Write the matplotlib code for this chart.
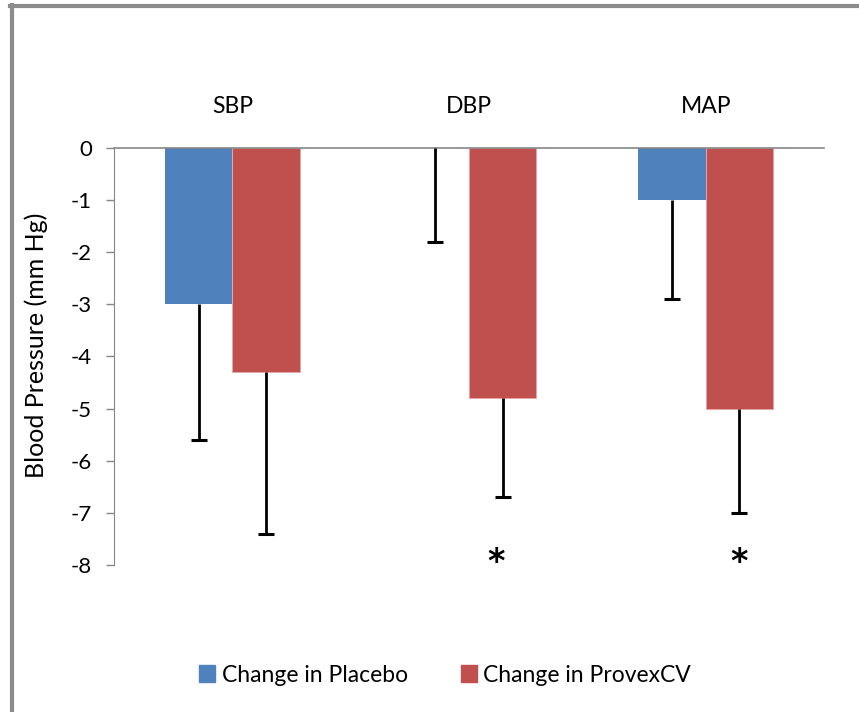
import matplotlib.pyplot as plt
import numpy as np
from matplotlib.patches import Rectangle

plt.rcParams['font.family'] = ['Lato', 'DejaVu Sans']

# change from baseline, mm Hg
measures = ['SBP', 'DBP', 'MAP']
placebo = [-3.0, 0.0, -1.0]
provex = [-4.3, -4.8, -5.0]
# lower error bar ends
placebo_low = [-5.6, -1.8, -2.9]
provex_low = [-7.4, -6.7, -7.0]
significant = [False, True, True]

blue = '#4F81BD'
red = '#C0504D'

fig = plt.figure(figsize=(8.59, 7.12), dpi=100)
ax = fig.add_axes([0.1327, 0.2065, 0.8266, 0.5857])

x = np.arange(len(measures))
w = 0.285

ax.bar(x - w / 2, placebo, w, color=blue, zorder=2)
ax.bar(x + w / 2, provex, w, color=red, edgecolor='#E6A5A4', linewidth=0.6, zorder=2)

# one-sided (downward) error bars with a cap at the end only
for xs, top, low in [(x - w / 2, placebo, placebo_low), (x + w / 2, provex, provex_low)]:
    ax.vlines(xs, low, top, color='black', lw=2, zorder=3)
    ax.plot(xs, low, ls='none', marker='_', ms=12, mew=2.2, color='black', zorder=3)

star_shift = [0, -0.03, 0]
for i, sig in enumerate(significant):
    if sig:
        ax.text(x[i] + w / 2 + star_shift[i], -7.95, '*', ha='center', va='center',
                fontsize=24, fontweight='bold', family='DejaVu Sans')

ax.set_xlim(-0.5, 2.5)
ax.set_ylim(-8, 0)
ax.set_yticks(np.arange(-8, 1, 1))
ax.set_yticklabels([str(v) for v in range(-8, 1)], fontsize=16)
ax.tick_params(axis='y', length=6, width=1, color='#868686', pad=10)

ax.xaxis.tick_top()
ax.set_xticks(x)
ax.set_xticklabels(measures, fontsize=16.5)
ax.tick_params(axis='x', length=0, pad=22)

for side in ['right', 'bottom']:
    ax.spines[side].set_visible(False)
ax.spines['top'].set_color('#868686')
ax.spines['left'].set_color('#868686')
ax.spines['top'].set_linewidth(1.2)

fig.text(0.042, 1 - 345 / 712, 'Blood Pressure (mm Hg)', rotation=90,
         ha='center', va='center', fontsize=18)

handles = [Rectangle((0, 0), 1, 1, color=blue), Rectangle((0, 0), 1, 1, color=red)]
fig.legend(handles, ['Change in Placebo', 'Change in ProvexCV'], loc='center',
           bbox_to_anchor=(0.518, 1 - 675 / 712), ncol=2, frameon=False, fontsize=16.5,
           handlelength=0.7, handleheight=0.7, handletextpad=0.3, columnspacing=2.3)

# chart frame
fig.add_artist(plt.Line2D([0.012, 1.0], [1 - 6 / 712, 1 - 6 / 712],
                          transform=fig.transFigure, color='#8C8C8C', lw=3))
fig.add_artist(plt.Line2D([0.0145, 0.0145], [0, 1 - 5 / 712],
                          transform=fig.transFigure, color='#8C8C8C', lw=3))

fig.savefig('out.png', dpi=100)
